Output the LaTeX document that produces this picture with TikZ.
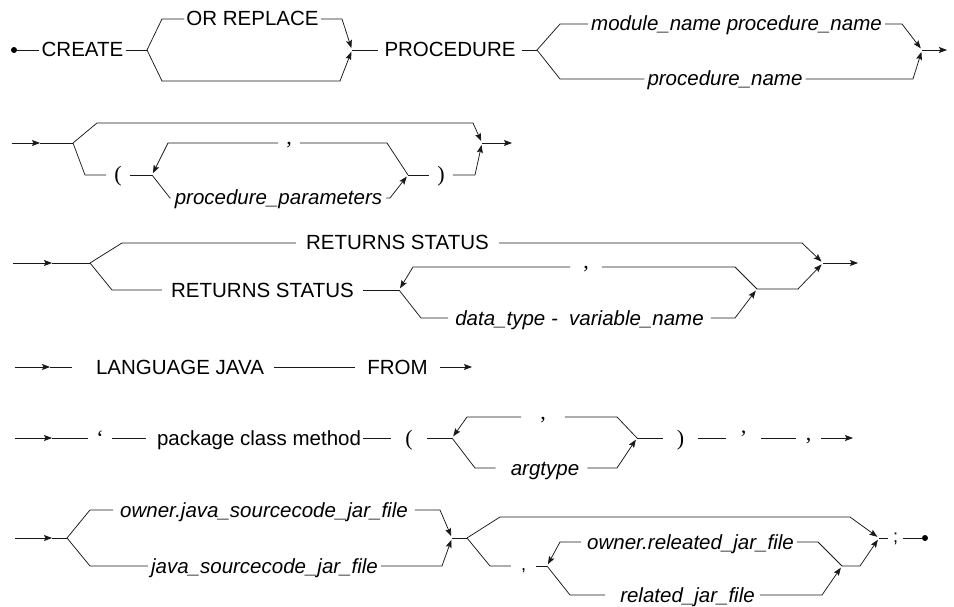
\documentclass[tikz,border=0pt]{standalone}
\usepackage{fontspec}
\setmainfont{Liberation Sans}
\newfontfamily\punctfont{Liberation Serif}
\usepackage{tikz}
\usetikzlibrary{arrows.meta}
\newcommand\railsize{\fontsize{20.5}{24}\selectfont}
\tikzset{
  rail/.style    = {draw=black!90, line width=0.75pt},
  arr/.style     = {rail, -{Stealth[length=8pt, width=6pt, inset=1.5pt]}},
  merge/.style   = {arr, shorten >=2pt},
  term/.style    = {font=\railsize, text height=14pt, text depth=0pt,
                    inner ysep=0pt, inner xsep=3pt},
  nterm/.style   = {term, font=\railsize\itshape},
  punct/.style   = {term, font=\fontsize{22}{24}\selectfont\punctfont,
                    text height=14pt},
  sepmark/.style = {punct, text height=4pt},
  psans/.style   = {term, font=\fontsize{18}{20}\selectfont, text height=9pt},
  railend/.style = {circle, fill=black, inner sep=0pt, minimum size=6pt},
}

\begin{document}
\begin{tikzpicture}[x=1pt, y=-1pt]
  \useasboundingbox (0,0) rectangle (954,607);
  % CREATE [OR REPLACE] PROCEDURE name
  \node[railend] (start) at (14,50) {};
  \node[term, inner xsep=2pt] (create) at (82.5,50) {CREATE};
  \draw[rail] (start) -- (create.west);
  \coordinate (b1) at (147,50);
  \coordinate (j1) at (352,50);
  \draw[rail] (create.east) -- (b1);
  \node[term, inner xsep=2pt] (orrepl) at (252.5,19) {OR REPLACE};
  \draw[rail] (b1) -- (162,19) -- (orrepl.west);
  \draw[merge] (orrepl.east) -- (342,19) -- (j1);
  \draw[merge] (b1) -- (162,81) -- (340,81) -- (j1);
  \node[term, inner xsep=6pt] (proc) at (450,50) {PROCEDURE};
  \draw[rail] (j1) -- (proc.west);
  \coordinate (b2) at (537,50);
  \coordinate (j2) at (922,50);
  \coordinate (e1) at (947,50);
  \draw[rail] (proc.east) -- (b2);
  \node[nterm] (modproc) at (736.5,24) {module\_name procedure\_name};
  \draw[rail] (b2) -- (560,24) -- (modproc.west);
  \draw[merge] (modproc.east) -- (902,24) -- (j2);
  \node[nterm] (procname) at (725,79) {procedure\_name};
  \draw[rail] (b2) -- (560,79) -- (procname.west);
  \draw[merge] (procname.east) -- (913,79) -- (j2);
  \draw[arr] (j2) -- (e1);

  \foreach \r/\y/\xs/\xa in {2/143/12/40, 3/263/13/52, 4/367/15/50,
                             5/438/15/52, 6/538/15/52}{%
    \coordinate (s\r) at (\xs,\y);
    \coordinate (a\r) at (\xa,\y);
    \draw[arr] (s\r) -- (a\r);}

  % parameter list
  \coordinate (b3) at (73,143);
  \coordinate (j3) at (482,143);
  \coordinate (e2) at (512,143);
  \coordinate (b4) at (152,175);
  \coordinate (j4) at (408,175);
  \draw[rail] (a2) -- (b3);
  \draw[merge] (b3) -- (97,123) -- (473,123) -- (j3);
  \node[punct, inner xsep=8pt] (lpar) at (118,175) {(};
  \draw[rail] (b3) -- (85,175) -- (lpar.west);
  \draw[rail] (lpar.east) -- (b4);
  \node[sepmark, inner xsep=8pt] (sep1) at (289,143) {,};
  \draw[rail] (j4) -- (387,143) -- (sep1.east);
  \draw[merge] (sep1.west) -- (168,143) -- (b4);
  \node[nterm, inner xsep=4pt] (params) at (278.5,198) {procedure\_parameters};
  \draw[rail] (b4) -- (170,198) -- (params.west);
  \draw[merge] (params.east) -- (390,198) -- (j4);
  \node[punct, inner xsep=8pt] (rpar) at (441,175) {)};
  \draw[rail] (j4) -- (rpar.west);
  \draw[merge] (rpar.east) -- (475,175) -- (j3);
  \draw[arr] (j3) -- (e2);

  % RETURNS STATUS
  \coordinate (b5) at (90,263);
  \coordinate (j5) at (823,263);
  \coordinate (e3) at (858,263);
  \coordinate (b6) at (399,290);
  \coordinate (j6) at (757,289);
  \draw[rail] (a3) -- (b5);
  \node[term, inner xsep=10pt] (rstat) at (397.5,243) {RETURNS STATUS};
  \draw[rail] (b5) -- (122,243) -- (rstat.west);
  \draw[merge] (rstat.east) -- (802,243) -- (j5);
  \node[term, inner xsep=9pt] (rstatv) at (262.5,290) {RETURNS STATUS};
  \draw[rail] (b5) -- (112,290) -- (rstatv.west);
  \draw[rail] (rstatv.east) -- (b6);
  \node[sepmark, inner xsep=13pt] (sep2) at (586,267) {,};
  \draw[rail] (j6) -- (735,267) -- (sep2.east);
  \draw[merge] (sep2.west) -- (413,267) -- (b6);
  \node[nterm, inner xsep=7pt] (typevar) at (579.5,318)
    {data\_type -\ \ variable\_name};
  \draw[rail] (b6) -- (421,318) -- (typevar.west);
  \draw[merge] (typevar.east) -- (735,318) -- (j6);
  \draw[merge] (j6) -- (798,289) -- (j5);
  \draw[arr] (j5) -- (e3);

  % LANGUAGE JAVA FROM
  \node[term, inner xsep=10pt] (langjava) at (180,367) {LANGUAGE JAVA};
  \draw[rail, shorten >=14pt] (a4) -- (langjava.west);
  \node[term, inner xsep=12pt] (fromkw) at (397.5,367) {FROM};
  \draw[rail] (langjava.east) -- (fromkw.west);
  \coordinate (e4) at (472,367);
  \draw[arr] (fromkw.east) -- (e4);

  % method signature
  \coordinate (b7) at (452,438);
  \coordinate (j7) at (637,438);
  \coordinate (e5) at (853,438);
  \node[punct, inner xsep=8pt] (lquote) at (100,438) {‘};
  \draw[rail] (a5) -- (lquote.west);
  \node[term, inner xsep=2pt] (pcm) at (259,438) {package class method};
  \draw[rail, shorten >=9pt] (lquote.east) -- (pcm.west);
  \node[punct, inner xsep=14pt] (lpar2) at (409,438) {(};
  \draw[rail] (pcm.east) -- (lpar2.west);
  \draw[rail] (lpar2.east) -- (b7);
  \node[sepmark, inner xsep=19pt] (sep3) at (543,417) {,};
  \draw[rail] (j7) -- (617,417) -- (sep3.east);
  \draw[merge] (sep3.west) -- (467,417) -- (b7);
  \node[nterm, inner xsep=8pt] (argt) at (545,468) {argtype};
  \draw[rail, shorten >=7pt] (b7) -- (475,468) -- (argt.west);
  \draw[merge] (argt.east) -- (617,468) -- (j7);
  \node[punct, inner xsep=14pt] (rpar2) at (680.5,438) {)};
  \draw[rail] (j7) -- (rpar2.west);
  \node[punct, inner xsep=14pt] (rquote) at (743.5,438) {’};
  \draw[rail] (rpar2.east) -- (rquote.west);
  \node[sepmark, inner xsep=10pt] (sep4) at (808.5,438) {,};
  \draw[rail] (rquote.east) -- (sep4.west);
  \draw[arr] (sep4.east) -- (e5);

  % jar files
  \coordinate (b8) at (67,538);
  \coordinate (j8) at (452,538);
  \coordinate (b9) at (467,538);
  \coordinate (b10) at (547,566);
  \coordinate (j10) at (842,566);
  \coordinate (j9) at (879,538);
  \draw[rail] (a6) -- (b8);
  \node[nterm, inner xsep=7pt] (ownsrc) at (264,510)
    {owner.java\_sourcecode\_jar\_file};
  \draw[rail] (b8) -- (90,510) -- (ownsrc.west);
  \draw[merge] (ownsrc.east) -- (440,510) -- (j8);
  \node[nterm, inner xsep=3pt] (src) at (264.5,566) {java\_sourcecode\_jar\_file};
  \draw[rail] (b8) -- (90,566) -- (src.west);
  \draw[merge] (src.east) -- (442,566) -- (j8);
  \draw[rail] (j8) -- (b9);
  \draw[merge] (b9) -- (500,517) -- (850,517) -- (j9);
  \node[psans, inner xsep=10pt] (sep5) at (523.5,566) {,};
  \draw[rail] (b9) -- (490,566) -- (sep5.west);
  \draw[rail] (sep5.east) -- (b10);
  \node[nterm, inner xsep=3pt] (ownrel) at (690.5,542) {owner.releated\_jar\_file};
  \draw[rail] (j10) -- (818,542) -- (ownrel.east);
  \draw[merge, shorten <=3pt] (ownrel.west) -- (560,542) -- (b10);
  \node[nterm, inner xsep=5pt] (rel) at (687.5,595) {related\_jar\_file};
  \draw[rail, shorten >=10pt] (b10) -- (570,595) -- (rel.west);
  \draw[merge] (rel.east) -- (822,595) -- (j10);
  \draw[merge] (j10) -- (860,566) -- (j9);
  \node[psans, inner xsep=4.5pt] (semi) at (895.5,538) {;};
  \draw[rail] (j9) -- (semi.west);
  \node[railend] (finish) at (925,538) {};
  \draw[rail] (semi.east) -- (finish);
\end{tikzpicture}
\end{document}
